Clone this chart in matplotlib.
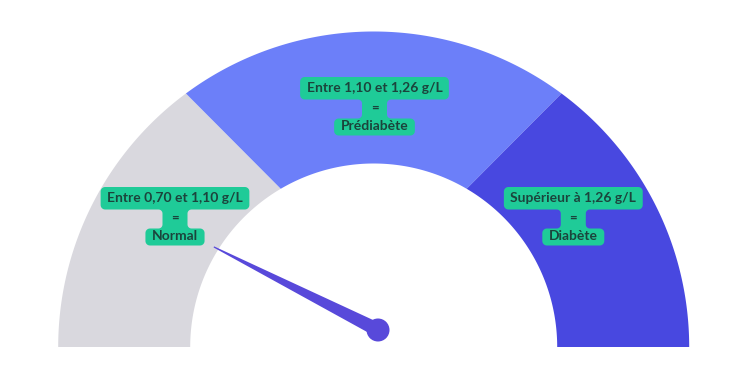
import numpy as np
import matplotlib
matplotlib.use("Agg")
import matplotlib.pyplot as plt
from matplotlib.patches import Polygon, Circle

# Glycémie à jeun : zones et libellés
zone_ranges = ["Entre 0,70 et 1,10 g/L", "Entre 1,10 et 1,26 g/L", "Supérieur à 1,26 g/L"]
zone_names = ["Normal", "Prédiabète", "Diabète"]
zone_edges = [0.70, 1.10, 1.26, 1.42]          # g/L, bornes des zones
zone_share = [0.314, 0.372, 0.314]              # part de l'arc occupée par chaque zone
zone_colors = ["#D9D8DE", "#6C7FF9", "#4848E0"]
needle_value = 0.89                              # g/L

W, H, DPI = 750, 380, 100
fig = plt.figure(figsize=(W / DPI, H / DPI), dpi=DPI)
ax = fig.add_axes([0, 0, 1, 1])
ax.set_xlim(0, W)
ax.set_ylim(H, 0)
ax.set_aspect("equal")
ax.axis("off")

# gauge geometry (pixel space, y pointing down)
cx, cy = 373.7, 347.0
R_out, R_in = 315.5, 183.5
tilt = 3.05  # boundaries are slanted lines, not pure radii


def pt(r, deg):
    a = np.radians(deg)
    return cx + r * np.cos(a), cy - r * np.sin(a)


def bound(a):
    # outer / inner angle of a zone boundary
    if a >= 180.0 or a <= 0.0:
        return a, a
    if a > 90:
        return a + tilt, a - tilt
    return a - tilt, a + tilt


# angular boundaries derived from zone shares (180° on the left -> 0° on the right)
cum = np.concatenate([[0], np.cumsum(zone_share)])
cum = cum / cum[-1]
edge_angles = 180 - 180 * cum
for i in range(3):
    o0, i0 = bound(edge_angles[i])
    o1, i1 = bound(edge_angles[i + 1])
    outer = [pt(R_out, t) for t in np.linspace(o0, o1, 120)]
    inner = [pt(R_in, t) for t in np.linspace(i1, i0, 120)]
    ax.add_patch(Polygon(outer + inner, closed=True, facecolor=zone_colors[i],
                         edgecolor="none", zorder=1))

# needle
pivot = np.array([378.0, 330.0])
needle_len = 184.0
needle_deg = np.interp(needle_value, zone_edges, edge_angles)
na = np.radians(needle_deg)
d = np.array([np.cos(na), -np.sin(na)])
nrm = np.array([-d[1], d[0]])
tip = pivot + needle_len * d
half_w, tip_w = 7.0, 0.6
needle = [tip + tip_w * nrm, pivot + half_w * nrm, pivot - half_w * nrm, tip - tip_w * nrm]
ax.add_patch(Polygon(needle, closed=True, facecolor="#5849DA", edgecolor="none", zorder=5))
ax.add_patch(Circle(pivot, 11.5, facecolor="#5849DA", edgecolor="none", zorder=6))


# callout label shapes
def arc_pts(c, r, a0, a1, n=8):
    t = np.radians(np.linspace(a0, a1, n))
    return [(c[0] + r * np.cos(v), c[1] + r * np.sin(v)) for v in t]


def callout_path(a0, a1, t0, t1, m0, m1, b0x, b1x, bt, bb, r=4.5, f=4.0):
    p = []
    p += arc_pts((a1 - r, t0 + r), r, -90, 0)
    p += arc_pts((a1 - r, t1 - r), r, 0, 90)
    p += arc_pts((m1 + f, t1 + f), f, -90, -180)
    p += arc_pts((m1 + f, bt - f), f, 180, 90)
    p += arc_pts((b1x - r, bt + r), r, -90, 0)
    p += arc_pts((b1x - r, bb - r), r, 0, 90)
    p += arc_pts((b0x + r, bb - r), r, 90, 180)
    p += arc_pts((b0x + r, bt + r), r, 180, 270)
    p += arc_pts((m0 - f, bt - f), f, 90, 0)
    p += arc_pts((m0 - f, t1 + f), f, 0, -90)
    p += arc_pts((a0 + r, t1 - r), r, 90, 180)
    p += arc_pts((a0 + r, t0 + r), r, 180, 270)
    return p


label_anchor = [(175.0, 187.0), (374.5, 77.0), (573.3, 187.0)]
label_green = "#1FCB98"
text_col = "#1B443C"
fs = 10.0
fam = ["Lato", "DejaVu Sans"]

fig.canvas.draw()
renderer = fig.canvas.get_renderer()
for (lx, ly), top, name in zip(label_anchor, zone_ranges, zone_names):
    t1 = ax.text(lx, ly + 11.5, top, ha="center", va="center", fontsize=fs,
                 fontweight="bold", color=text_col, family=fam, zorder=11)
    ax.text(lx, ly + 30.5, "=", ha="center", va="center", fontsize=fs - 0.5,
            fontweight="bold", color=text_col, family=fam, zorder=11)
    t3 = ax.text(lx, ly + 49.5, name, ha="center", va="center", fontsize=fs,
                 fontweight="bold", color=text_col, family=fam, zorder=11)
    w1 = t1.get_window_extent(renderer).width
    w3 = t3.get_window_extent(renderer).width
    pad = 6.5
    pts = callout_path(lx - w1 / 2 - pad, lx + w1 / 2 + pad, ly, ly + 22.5,
                       lx - 12.5, lx + 12.5,
                       lx - w3 / 2 - pad, lx + w3 / 2 + pad, ly + 41.5, ly + 58.5)
    ax.add_patch(Polygon(pts, closed=True, facecolor=label_green, edgecolor="none", zorder=10))

fig.savefig("out.png", dpi=DPI, facecolor="white")
